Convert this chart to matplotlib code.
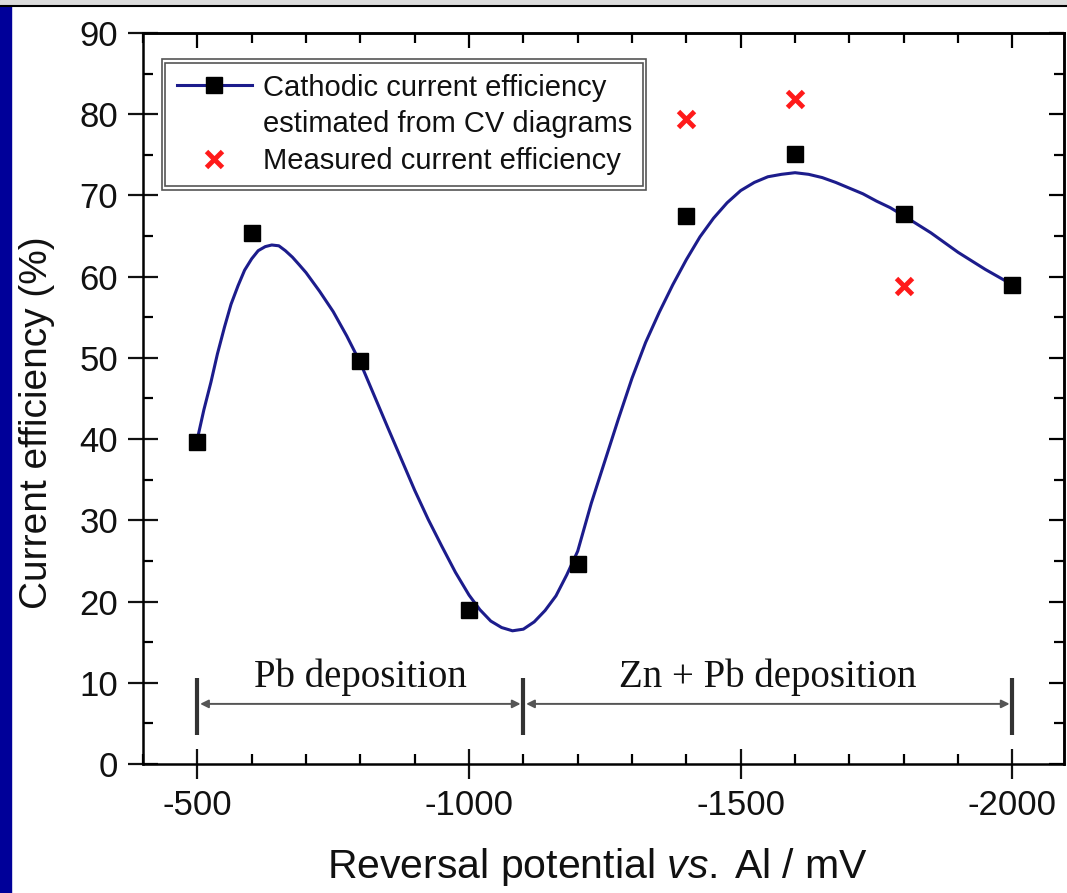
import matplotlib
matplotlib.use("Agg")
import matplotlib.pyplot as plt
from matplotlib.lines import Line2D
from matplotlib.patches import Rectangle
from matplotlib.ticker import MultipleLocator
from matplotlib.transforms import IdentityTransform

plt.rcParams['font.family'] = ['Liberation Sans', 'DejaVu Sans']
plt.rcParams['axes.unicode_minus'] = False
plt.rcParams['mathtext.fontset'] = 'custom'
plt.rcParams['mathtext.rm'] = 'Liberation Sans'
plt.rcParams['mathtext.it'] = 'Liberation Sans:italic'

# Eficienta estimata din diagramele CV (patrate negre)
potential = [-500, -600, -800, -1000, -1200, -1400, -1600, -1800, -2000]
cv_efficiency = [39.6, 65.4, 49.6, 18.9, 24.6, 67.5, 75.1, 67.7, 59.0]

# Eficienta masurata (x rosu)
measured_potential = [-1400, -1600, -1800]
measured_efficiency = [79.4, 81.9, 58.8]

# Curba netezita
curve_potential = [-500, -512, -525, -537, -550, -562, -575, -587, -600, -612,
                   -625, -637, -650, -662, -675, -687, -700, -725, -750, -775,
                   -800, -850, -900, -925, -950, -975, -1000, -1020, -1040, -1060,
                   -1080, -1100, -1120, -1140, -1160, -1180, -1200, -1225, -1250, -1275,
                   -1300, -1325, -1350, -1375, -1400, -1425, -1450, -1475, -1500, -1525,
                   -1550, -1575, -1600, -1625, -1650, -1675, -1700, -1725, -1750, -1775,
                   -1800, -1850, -1900, -1950, -2000]
curve_efficiency = [40.0, 43.6, 47.0, 50.5, 53.8, 56.6, 58.9, 60.8, 62.2, 63.2,
                    63.7, 63.9, 63.8, 63.2, 62.4, 61.5, 60.5, 58.2, 55.7, 52.7,
                    49.4, 41.5, 33.7, 30.1, 26.8, 23.6, 20.8, 19.0, 17.6, 16.8,
                    16.4, 16.6, 17.5, 18.9, 20.7, 23.3, 26.2, 32.1, 37.3, 42.5,
                    47.5, 51.9, 55.6, 59.0, 62.1, 64.9, 67.2, 69.1, 70.6, 71.6,
                    72.3, 72.6, 72.8, 72.6, 72.2, 71.6, 70.9, 70.2, 69.3, 68.5,
                    67.5, 65.4, 63.0, 60.9, 59.0]

# Domeniile de depunere
region_bounds = [-500, -1100, -2000]
region_labels = ['Pb deposition', 'Zn + Pb deposition']

curve_color = '#1c1c8c'
red = '#ff1a1a'

fig = plt.figure(figsize=(10.67, 8.93), dpi=100)
ax = fig.add_axes([143 / 1067, 1 - 764 / 893, 921 / 1067, 731 / 893])

# chenarul slide-ului: banda albastra si linia de sus
fig.patches.append(Rectangle((0, 0), 11 / 1067, 1, transform=fig.transFigure,
                             color='#000099', zorder=0))
fig.patches.append(Rectangle((0, 1 - 5 / 893), 1, 5 / 893, transform=fig.transFigure,
                             color='#dcdcdc', zorder=1))
fig.add_artist(Line2D([0, 1], [1 - 5.5 / 893, 1 - 5.5 / 893], transform=fig.transFigure,
                      color='black', lw=1.5))

ax.plot(curve_potential, curve_efficiency, color=curve_color, lw=2.2, zorder=3)
ax.plot(potential, cv_efficiency, 's', color='black', ms=11, zorder=4)
ax.plot(measured_potential, measured_efficiency, 'x', color=red, ms=12, mew=3.5, zorder=4)

# sagetile pentru domeniile de depunere
for i in range(len(region_labels)):
    x0, x1 = region_bounds[i], region_bounds[i + 1]
    ax.annotate('', xy=(x1, 7.4), xytext=(x0, 7.4),
                arrowprops=dict(arrowstyle='<|-|>', color='#555555', lw=1.4,
                                shrinkA=2, shrinkB=2, mutation_scale=12))
    ax.text((x0 + x1) / 2, 9.5, region_labels[i], ha='center', va='baseline',
            fontsize=28, family='Liberation Serif', color='#111111')
for xb in region_bounds:
    ax.plot([xb, xb], [3.6, 10.6], color='#333333', lw=3, solid_capstyle='butt')

ax.set_xlim(-400, -2095)
ax.set_ylim(0, 90)
ax.xaxis.set_major_locator(MultipleLocator(500))
ax.xaxis.set_minor_locator(MultipleLocator(100))
ax.yaxis.set_major_locator(MultipleLocator(10))
ax.yaxis.set_minor_locator(MultipleLocator(5))
ax.tick_params(which='major', direction='inout', length=22, width=1.6,
               top=False, right=False, labelsize=25, pad=7, colors='#111111')
ax.tick_params(which='minor', direction='in', length=7, width=1.6,
               top=False, right=False)
for s in ax.spines.values():
    s.set_linewidth(1.8)

# ticks spre interior sus si in dreapta
secx = ax.secondary_xaxis('top')
secx.xaxis.set_major_locator(MultipleLocator(500))
secx.xaxis.set_minor_locator(MultipleLocator(100))
secx.tick_params(which='major', direction='in', length=11, width=1.6, labeltop=False)
secx.tick_params(which='minor', direction='in', length=7, width=1.6)
secx.spines['top'].set_linewidth(1.8)
secy = ax.secondary_yaxis('right')
secy.yaxis.set_major_locator(MultipleLocator(10))
secy.yaxis.set_minor_locator(MultipleLocator(5))
secy.tick_params(which='major', direction='in', length=11, width=1.6, labelright=False)
secy.tick_params(which='minor', direction='in', length=7, width=1.6)
secy.spines['right'].set_linewidth(1.8)

fig.text(37 / 1067, 1 - 423 / 893, 'Current efficiency (%)', rotation=90,
         ha='center', va='center', fontsize=28, color='#111111')
fig.text(597 / 1067, 1 - 867 / 893, 'Reversal potential $\\mathit{vs.}$\u2009Al / mV',
         ha='center', va='center', fontsize=29.5, color='#111111')

h1 = Line2D([], [], color=curve_color, lw=2.2, marker='s', mfc='black', mec='black', ms=11)
h_blank = Line2D([], [], linestyle='none', marker='none')
h2 = Line2D([], [], linestyle='none', marker='x', color=red, ms=12, mew=3.5)
leg = ax.legend(handles=[h1, h_blank, h2],
                labels=['Cathodic current efficiency', 'estimated from CV diagrams',
                        'Measured current efficiency'],
                loc='upper left', bbox_to_anchor=(0.0206, 0.9644), borderaxespad=0,
                fontsize=21, handlelength=2.6, handletextpad=0.35, labelspacing=0.3,
                borderpad=0.5, fancybox=False, edgecolor='#555555', framealpha=1)
leg.get_frame().set_linewidth(1.2)
for t in leg.get_texts():
    t.set_color('#111111')

# a doua linie a chenarului legendei
fig.canvas.draw()
bb = leg.get_window_extent()
fig.add_artist(Rectangle((bb.x0 + 3.5, bb.y0 + 3.5), bb.width - 7, bb.height - 7,
                         transform=IdentityTransform(), fill=False, ec='#555555', lw=1.2))

fig.savefig('out.png', dpi=100)
